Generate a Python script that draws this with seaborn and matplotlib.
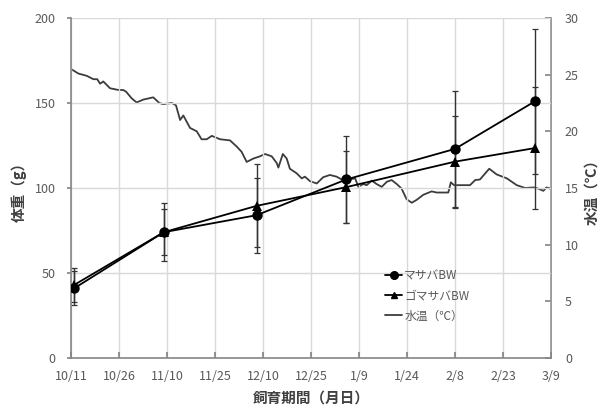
import numpy as np
import pandas as pd
import matplotlib
matplotlib.use("Agg")
import matplotlib.pyplot as plt
import seaborn as sns
from matplotlib.lines import Line2D

# ---------------- data ----------------
tick_labels = ['10/11', '10/26', '11/10', '11/25', '12/10', '12/25',
               '1/9', '1/24', '2/8', '2/23', '3/9']
tick_days = [0, 15, 30, 45, 60, 75, 90, 105, 120, 135, 150]

sample_day = [1, 29, 58, 86, 120, 145]
masaba_bw = [41, 74, 84, 105, 123, 151]
masaba_sd = [10, 17, 22, 25.5, 34, 42.5]
gomasaba_bw = [43, 74, 89.5, 100.5, 115.5, 123.5]
gomasaba_sd = [10, 13.5, 24.5, 21, 27, 36]

temp_day = [0, 2.3, 4.9, 7.0, 8.2, 9.1, 10.1, 12.2, 14.8, 16.3, 17.2, 19.0, 20.5,
            22.6, 25.7, 27.6, 28.8, 31.5, 32.8, 34.1, 35.1, 37.2, 39.3, 40.8,
            42.4, 44.0, 46.6, 49.7, 51.8, 53.3, 54.9, 57.0, 59.1, 60.6, 62.7,
            64.3, 64.8, 66.2, 67.4, 68.4, 70.5, 72.1, 73.1, 74.7, 76.8, 78.8,
            80.9, 83.0, 84.6, 86.7, 88.8, 89.8, 91.3, 92.4, 94.0, 95.5, 97.1,
            98.7, 100.2, 101.8, 103.3, 104.9, 106.5, 108.0, 110.1, 112.7, 114.3,
            117.9, 118.7, 119.7, 124.7, 126.3, 127.8, 130.7, 133.0, 136.2,
            139.3, 141.9, 144.5, 146.0, 147.6, 148.6, 149.7]
temp_c = [25.5, 25.1, 24.9, 24.6, 24.6, 24.2, 24.4, 23.8, 23.65, 23.65, 23.5, 22.9,
          22.55, 22.8, 23.0, 22.5, 22.4, 22.5, 22.3, 21.0, 21.4, 20.3, 20.0, 19.3,
          19.3, 19.6, 19.3, 19.2, 18.65, 18.2, 17.3, 17.6, 17.8, 18.0, 17.8, 17.2,
          16.8, 18.0, 17.6, 16.7, 16.3, 15.85, 16.0, 15.6, 15.4, 15.95, 16.15,
          16.0, 15.75, 15.75, 15.85, 15.1, 15.35, 15.25, 15.65, 15.35, 15.1,
          15.55, 15.7, 15.35, 14.95, 14.0, 13.7, 13.95, 14.4, 14.7, 14.6, 14.6,
          15.5, 15.25, 15.25, 15.7, 15.75, 16.7, 16.2, 15.85, 15.25, 15.0,
          15.05, 14.95, 14.75, 15.05, 14.95]

# ---------------- style ----------------
sns.set_theme(style="white")
plt.rcParams['font.family'] = ['Noto Sans CJK JP', 'DejaVu Sans']

GRID = '#d9d9d9'
SPINE = '#868686'
TXT = '#595959'

fig = plt.figure(figsize=(6.05, 4.07), dpi=100)
ax = fig.add_axes([71 / 605, 1 - 358 / 407, 480 / 605, 340 / 407])
ax2 = ax.twinx()

# temperature line (right axis)
tdf = pd.DataFrame({'day': temp_day, 'temp': temp_c})
sns.lineplot(data=tdf, x='day', y='temp', ax=ax2, color='#3c3c3c', lw=1.3,
             estimator=None, sort=False, legend=False)

# body weight series (left axis)
bw = pd.DataFrame({'day': sample_day * 2,
                   'bw': masaba_bw + gomasaba_bw,
                   'sd': masaba_sd + gomasaba_sd,
                   'sp': ['マサバBW'] * len(sample_day) + ['ゴマサバBW'] * len(sample_day)})
for sp in ['マサバBW', 'ゴマサバBW']:
    d = bw[bw.sp == sp]
    ax.errorbar(d['day'], d['bw'], yerr=d['sd'], fmt='none', ecolor='#333333',
                elinewidth=1.0, capsize=2.2, capthick=0.9, zorder=2)
sns.lineplot(data=bw, x='day', y='bw', style='sp', markers={'マサバBW': 'o', 'ゴマサバBW': '^'},
             dashes=False, color='black', lw=1.3, ax=ax, legend=False,
             estimator=None, sort=False, markeredgewidth=0, markersize=7.5, zorder=3)
for ln in ax.get_lines():
    if ln.get_marker() == '^':
        ln.set_markersize(6.5)

ax.set_zorder(ax2.get_zorder() + 1)
ax.patch.set_visible(False)

ax.set_xlim(0, 150)
ax.set_ylim(0, 200)
ax2.set_ylim(0, 30)
ax.set_xticks(tick_days)
ax.set_xticklabels(tick_labels)
ax.set_yticks([0, 50, 100, 150, 200])
ax2.set_yticks([0, 5, 10, 15, 20, 25, 30])

ax.grid(True, color=GRID, lw=1.0)
ax.set_axisbelow(True)

for a in (ax, ax2):
    for s in a.spines.values():
        s.set_visible(False)
ax.spines['left'].set_visible(True)
ax.spines['bottom'].set_visible(True)
ax2.spines['right'].set_visible(True)
for s in (ax.spines['left'], ax.spines['bottom'], ax2.spines['right']):
    s.set_color(SPINE)
    s.set_linewidth(1.2)

ax.tick_params(axis='x', direction='in', length=4, color=SPINE, labelsize=9,
               labelcolor=TXT, pad=9, bottom=True)
ax.tick_params(axis='y', direction='out', length=3, color=SPINE, labelsize=9,
               labelcolor=TXT, pad=8, left=True)
ax2.tick_params(axis='y', direction='in', length=4, color=SPINE, labelsize=9,
                labelcolor=TXT, pad=10, right=True)

ax.set_xlabel('飼育期間（月日）', fontsize=10.5, fontweight='bold', color='#404040', labelpad=4)
ax.set_ylabel('体重（g）', fontsize=10.5, fontweight='bold', color='#404040', labelpad=6)
ax2.set_ylabel('水温（℃）', fontsize=10.5, fontweight='bold', color='#404040', labelpad=3)

handles = [Line2D([], [], color='black', lw=1.3, marker='o', markersize=5.5),
           Line2D([], [], color='black', lw=1.3, marker='^', markersize=5),
           Line2D([], [], color='#3c3c3c', lw=1.3)]
ax.legend(handles, ['マサバBW', 'ゴマサバBW', '水温（℃）'], loc='upper left',
          bbox_to_anchor=(0.645, 0.275), frameon=False, fontsize=8.5,
          handlelength=1.4, handletextpad=0.2, labelspacing=0.6,
          borderaxespad=0, labelcolor=TXT)

fig.savefig('out.png', dpi=100)
